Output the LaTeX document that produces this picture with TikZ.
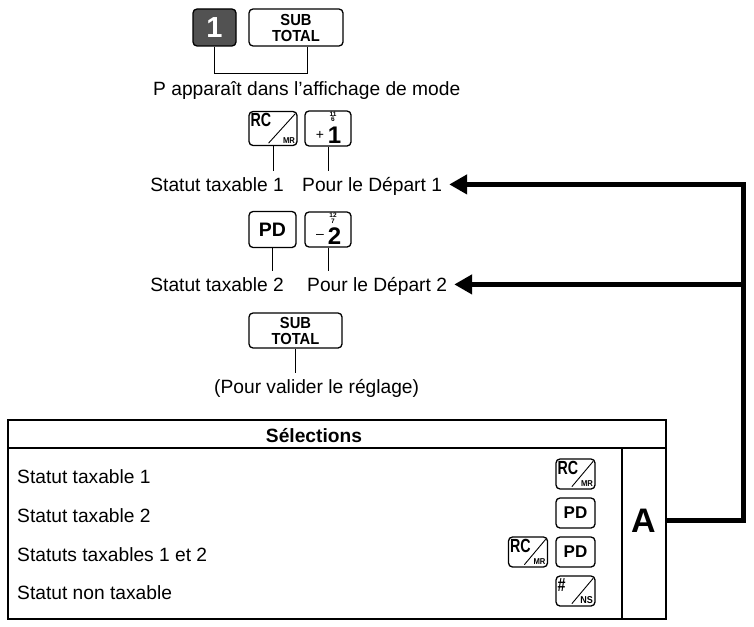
\documentclass[tikz,border=0pt]{standalone}
\usepackage{fontspec}
\setmainfont{Liberation Sans}
\usetikzlibrary{arrows.meta,positioning,calc}

\tikzset{
  keybox/.style={draw, line width=1.3pt, rounded corners=4pt, inner sep=0pt},
  keylbl/.style={inner sep=0pt},
  lbl/.style={font=\fontsize{19.2}{22}\selectfont, inner sep=0pt, outer ysep=6pt, anchor=base west},
  lead/.style={line width=0.9pt},
  rule/.style={line width=1.8pt},
  feed/.style={line width=5pt, -{Triangle[length=18pt,width=19pt]}}
}

\newcommand\slashkey[5][]{%
  \node[keybox,minimum width=39,minimum height=30,#1] (#2) at (#3) {};
  \node[keylbl,font=\bfseries\fontsize{19}{19}\selectfont,anchor=north west] at ([shift={(2,2.5)}]#2.north west) {\scalebox{.75}[1]{#4}};
  \draw[line width=0.9pt] ($(#2.south west)!0.41!(#2.south east)+(0,-3)$) -- ([shift={(-2.5,3)}]#2.north east);
  \node[keylbl,font=\bfseries\fontsize{8.5}{8}\selectfont,anchor=south east] at ([shift={(-2.5,-2.5)}]#2.south east) {\scalebox{.9}[1]{#5}};
}
\newcommand\numkey[5]{%
  \node[keybox,minimum width=46,minimum height=35] (#1) at (#2) {};
  \node[keylbl,font=\bfseries\fontsize{24}{24}\selectfont] (#1d) at ([shift={(6.5,6.5)}]#1.center) {#4};
  \node[keylbl,font=\fontsize{14}{14}\selectfont] at ([shift={(-8,7)}]#1.center) {#3};
  \node[keylbl,font=\bfseries\fontsize{6.5}{5.5}\selectfont,align=center] at ([shift={(5,-11.5)}]#1.center) {#5};
}

\begin{document}
\begin{tikzpicture}[x=1pt,y=-1pt]
\useasboundingbox (0,0) rectangle (754,626);

\node[keybox,fill=black!68,text=white,font=\bfseries\fontsize{29}{29}\selectfont,minimum width=43,minimum height=37] (one) at (214.5,27.5) {1};
\node[keybox,align=center,font=\bfseries\fontsize{16}{16}\selectfont,minimum width=94,minimum height=37] (sub1) at (296,27.5) {\scalebox{.92}[1]{SUB}\\\scalebox{.92}[1]{TOTAL}};
\node[lbl] (pmode) at (153,95) {P apparaît dans l’affichage de mode};
\draw[lead] (one.south) -- ++(0,27) -| ([xshift=11pt]sub1.south);

\slashkey[minimum width=48,minimum height=34]{rc1}{273,128.5}{RC}{MR}
\numkey{plus1}{328,128.5}{+}{1}{11\\6}
\node[lbl,anchor=base east] (st1) at (284,191) {Statut taxable 1};
\node[lbl] (pd1) at (302,191) {Pour le Départ 1};
\draw[lead] (rc1.south) -- (rc1.south |- st1.north);
\draw[lead] (plus1.south) -- (plus1.south |- pd1.north);

\node[keybox,font=\bfseries\fontsize{19.5}{19.5}\selectfont,minimum width=47,minimum height=36] (pd) at (272.5,229.5) {PD};
\numkey{minus2}{328,229.5}{–}{2}{12\\7}
\node[lbl,anchor=base east] (st2) at (284,291) {Statut taxable 2};
\node[lbl] (pd2) at (307,291) {Pour le Départ 2};
\draw[lead] (pd.south) -- (pd.south |- st2.north);
\draw[lead] (minus2.south) -- (minus2.south |- pd2.north);

\node[keybox,align=center,font=\bfseries\fontsize{16}{16}\selectfont,minimum width=93,minimum height=35] (sub2) at (295.5,330.5) {\scalebox{.92}[1]{SUB}\\\scalebox{.92}[1]{TOTAL}};
\node[lbl] (valid) at (214,393) {(Pour valider le réglage)};
\draw[lead] (sub2.south) -- (sub2.south |- valid.north);

\node[draw,rule,minimum width=658,minimum height=199,anchor=north west,inner sep=0pt] (tab) at (7,419) {};
\draw[rule] (7,448) -- (665,448);
\draw[rule] (622,448) -- (622,618);
\node[keylbl,font=\bfseries\fontsize{19.2}{22}\selectfont,anchor=base] (sel) at (314,442) {Sélections};
\node[lbl] (r1) at (17,483) {Statut taxable 1};
\node[lbl] (r2) at (17,522) {Statut taxable 2};
\node[lbl] (r3) at (17,561) {Statuts taxables 1 et 2};
\node[lbl] (r4) at (17,599) {Statut non taxable};
\slashkey{t1rc}{575.5,474}{RC}{MR}
\node[keybox,font=\bfseries\fontsize{17}{17}\selectfont,minimum width=39,minimum height=30] (t2pd) at (575.5,513) {PD};
\slashkey{t3rc}{528,552}{RC}{MR}
\node[keybox,font=\bfseries\fontsize{17}{17}\selectfont,minimum width=39,minimum height=30] (t3pd) at (575.5,552) {PD};
\slashkey{t4ns}{575.5,591}{\#}{\fontsize{10}{9}\selectfont NS}
\node[keylbl,font=\bfseries\fontsize{34}{34}\selectfont,anchor=base] (A) at (643.5,532) {A};

\coordinate (rail1) at (743.5,0 |- pd1.east);
\coordinate (rail2) at (743.5,0 |- pd2.east);
\draw[feed] (A.east -| tab.east) -| ([yshift=1.5pt]rail1) -- ([shift={(7,-1.5)}]pd1.east);
\draw[feed] ([yshift=1.5pt]rail2) -- ([shift={(7,-1.5)}]pd2.east);
\end{tikzpicture}
\end{document}
